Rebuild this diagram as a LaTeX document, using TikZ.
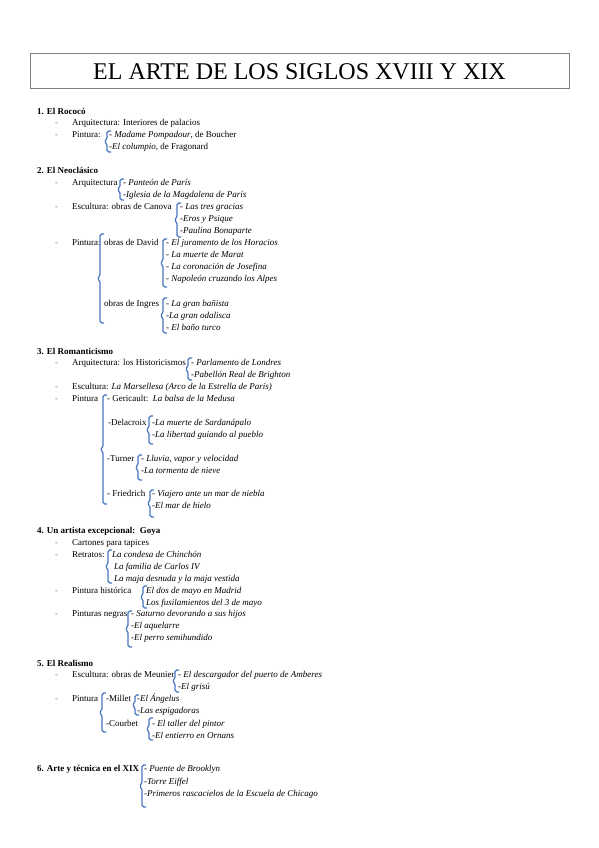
\documentclass[tikz,border=0pt]{standalone}
\usepackage{fontspec}
\setmainfont{Liberation Serif}
\usetikzlibrary{positioning}
\definecolor{llave}{HTML}{4677BE}
\definecolor{marco}{HTML}{7F7F7F}
% llave de corchete: x, arriba, abajo
\newcommand\clave[3]{%
  \draw[llavestyle] ({#1+4},#2) -- (#1,#2) -- (#1,{(#2+#3)/2-2}) -- ({#1-3},{(#2+#3)/2})
    -- (#1,{(#2+#3)/2+2}) -- (#1,#3) -- ({#1+4},#3);}

\begin{document}
\begin{tikzpicture}[x=1pt, y=-1pt,
    txt/.style={anchor=mid west, inner sep=0pt, font=\fontsize{9}{11}\selectfont},
    obra/.style={txt, font=\fontsize{9}{11}\selectfont\itshape},
    tema/.style={txt, font=\fontsize{9}{11}\selectfont\bfseries},
    guion/.style={txt, text=marco},
    llavestyle/.style={draw=llave, line width=1.2pt, rounded corners=1.8pt},
    titulo/.style={draw=marco, line width=1pt, minimum width=539pt, minimum height=35pt,
      inner sep=0pt, font=\fontsize{24}{28}\selectfont}
  ]
  \useasboundingbox (0,0) rectangle (599,848);
  \node[titulo] (titulo) at (299.5,71.5) {EL ARTE DE LOS SIGLOS XVIII Y XIX};

  % guiones de lista
  \foreach \y in {123,135,183,207,243,363,387,399,543,555,591,614,675,699}
    \node[guion] (g\y) at (55,\y) {-};

  % 1. Rococo
  \node[tema] (rococo) at (37,112) {1. El Rococó};
  \node[txt] (roc-arq) at (72,123) {Arquitectura: Interiores de palacios};
  \node[txt] (roc-pin) at (72,135) {Pintura:};
  \clave{107}{131}{152}
  \node[txt] (roc1) at (109,135) {- \textit{Madame Pompadour}, de Boucher};
  \node[txt] (roc2) at (109,147) {-\textit{El columpio}, de Fragonard};

  % 2. Neoclasico
  \node[tema] (neo) at (37,171) {2. El Neoclásico};
  \node[txt] (neo-arq) at (72,183) {Arquitectura};
  \clave{120}{179}{200}
  \node[obra] (neo-arq1) at (123,183) {- Panteón de París};
  \node[obra] (neo-arq2) at (123,195) {-Iglesia de la Magdalena de París};
  \node[txt] (neo-esc) at (72,207) {Escultura: obras de Canova};
  \clave{177}{203}{237}
  \foreach \t [count=\i] in {- Las tres gracias, -Eros y Psique, -Paulina Bonaparte}
    \node[obra] (canova\i) at (180,{195+12*\i}) {\t};
  \node[txt] (neo-pin) at (72,243) {Pintura:};
  \clave{100}{234}{323}
  \node[txt] (david) at (104,243) {obras de David};
  \clave{163}{239}{287}
  \foreach \t [count=\i] in {- El juramento de los Horacios, - La muerte de Marat,
      - La coronación de Josefina, - Napoleón cruzando los Alpes}
    \node[obra] (david\i) at (166,{231+12*\i}) {\t};
  \node[txt] (ingres) at (104,304) {obras de Ingres};
  \clave{163}{298}{333}
  \foreach \t [count=\i] in {- La gran bañista, -La gran odalisca, - El baño turco}
    \node[obra] (ingres\i) at (166,{292+12*\i}) {\t};

  % 3. Romanticismo
  \node[tema] (rom) at (37,352) {3. El Romanticismo};
  \node[txt] (rom-arq) at (72,363) {Arquitectura: los Historicismos};
  \clave{188}{358}{380}
  \node[obra] (rom-arq1) at (191,363) {- Parlamento de Londres};
  \node[obra] (rom-arq2) at (191,375) {-Pabellón Real de Brighton};
  \node[txt] (rom-esc) at (72,387) {Escultura: \textit{La Marsellesa (Arco de la Estrella de París)}};
  \node[txt] (rom-pin) at (72,399) {Pintura};
  \clave{103}{395}{504}
  \node[txt] (gericault) at (107,399) {- Gericault:\ \ \textit{La balsa de la Medusa}};
  \node[txt] (delacroix) at (108,423) {-Delacroix};
  \clave{149}{416}{444}
  \node[obra] (delacroix1) at (152,423) {-La muerte de Sardanápalo};
  \node[obra] (delacroix2) at (152,435) {-La libertad guiando al pueblo};
  \node[txt] (turner) at (107,459) {-Turner};
  \clave{138}{455}{480}
  \node[obra] (turner1) at (141,459) {- Lluvia, vapor y velocidad};
  \node[obra] (turner2) at (141,471) {-La tormenta de nieve};
  \node[txt] (friedrich) at (107,494) {- Friedrich};
  \clave{150}{490}{517}
  \node[obra] (friedrich1) at (152,494) {- Viajero ante un mar de niebla};
  \node[obra] (friedrich2) at (152,506) {-El mar de hielo};

  % 4. Goya
  \node[tema] (goya) at (37,531) {4. Un artista excepcional:\ \ Goya};
  \node[txt] (cartones) at (72,543) {Cartones para tapices};
  \node[txt] (retratos) at (72,555) {Retratos:};
  \clave{108}{550}{583}
  \node[obra] (retrato1) at (112,555) {La condesa de Chinchón};
  \node[obra] (retrato2) at (114,567) {La familia de Carlos IV};
  \node[obra] (retrato3) at (114,579) {La maja desnuda y la maja vestida};
  \node[txt] (historica) at (72,591) {Pintura histórica};
  \clave{143}{586}{608}
  \node[obra] (historica1) at (146,591) {El dos de mayo en Madrid};
  \node[obra] (historica2) at (146,603) {Los fusilamientos del 3 de mayo};
  \node[txt] (negras) at (72,614) {Pinturas negras};
  \clave{128}{611}{647}
  \foreach \t [count=\i] in {- Saturno devorando a sus hijos, -El aquelarre, -El perro semihundido}
    \node[obra] (negras\i) at (131,{602+12*\i}) {\t};

  % 5. Realismo
  \node[tema] (real) at (37,664) {5. El Realismo};
  \node[txt] (real-esc) at (72,675) {Escultura: obras de Meunier};
  \clave{175}{670}{692}
  \node[obra] (meunier1) at (178,675) {- El descargador del puerto de Amberes};
  \node[obra] (meunier2) at (178,687) {-El grisú};
  \node[txt] (real-pin) at (72,699) {Pintura};
  \clave{102}{693}{732}
  \node[txt] (millet) at (106,699) {-Millet};
  \clave{135}{695}{715}
  \node[obra] (millet1) at (137,699) {-El Ángelus};
  \node[obra] (millet2) at (137,711) {-Las espigadoras};
  \node[txt] (courbet) at (106,724) {-Courbet};
  \clave{149}{718}{740}
  \node[obra] (courbet1) at (152,724) {- El taller del pintor};
  \node[obra] (courbet2) at (152,736) {-El entierro en Ornans};

  % 6. Arte y tecnica
  \node[tema] (tecnica) at (37,769) {6. Arte y técnica en el XIX};
  \clave{142}{765}{807}
  \foreach \t [count=\i] in {- Puente de Brooklyn, -Torre Eiffel,
      -Primeros rascacielos de la Escuela de Chicago}
    \node[obra] (tecnica\i) at (144,{757+12.5*\i}) {\t};
\end{tikzpicture}
\end{document}
